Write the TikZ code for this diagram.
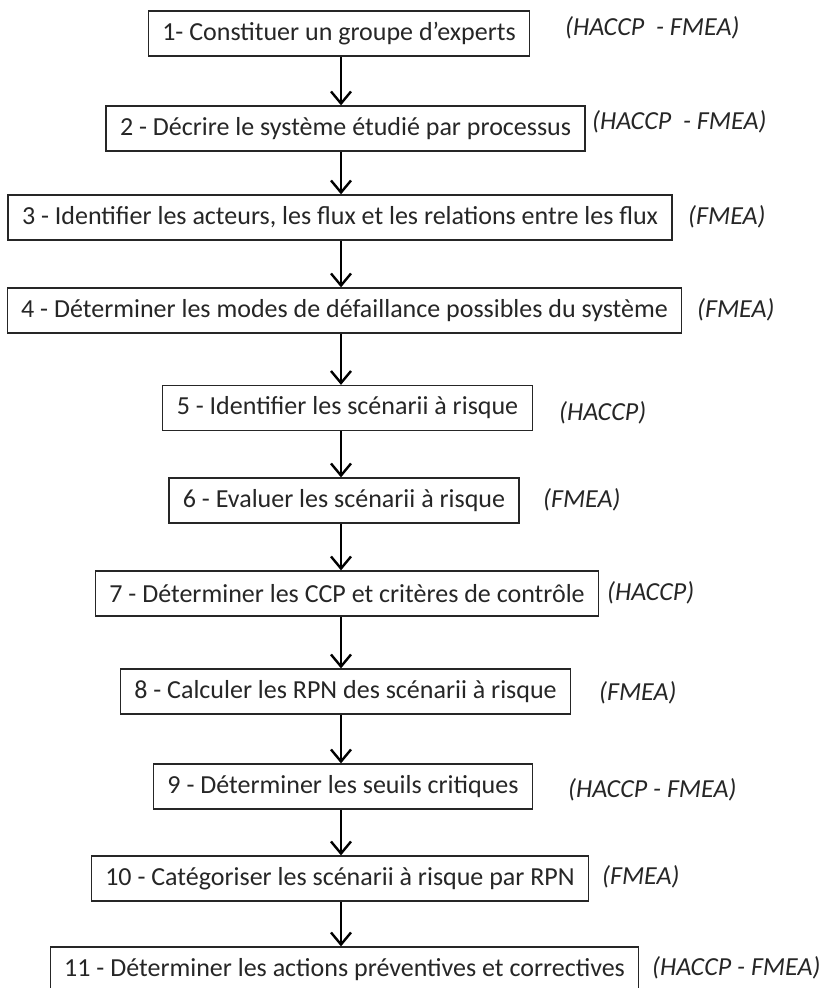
\documentclass[tikz,border=0pt]{standalone}
\usepackage{fontspec}
\setmainfont{Carlito}
\usetikzlibrary{arrows.meta}

\begin{document}
\begin{tikzpicture}[x=1pt,y=-1pt,
    etape/.style={draw=black!85, line width=1.3pt, fill=white, text=black!85,
      font=\fontsize{26}{30}\selectfont, inner xsep=14pt, inner ysep=0pt,
      minimum height=45pt},
    methode/.style={anchor=west, inner sep=0pt, text=black!85,
      font=\fontsize{26}{30}\selectfont\itshape},
    fleche/.style={-{Straight Barb[length=12pt,width=20pt,line width=2.4pt]}, line width=2.8pt}]
  \useasboundingbox (0,0) rectangle (826,988);

  \node [etape] (e1) at (339,33.5) {1- Constituer un groupe d’experts};
  \node [etape] (e2) at (345.5,128.5) {2 - Décrire le système étudié par processus};
  \node [etape] (e3) at (340,217.5) {3 - Identifier les acteurs, les flux et les relations entre les flux};
  \node [etape] (e4) at (344.5,310.5) {4 - Déterminer les modes de défaillance possibles du système};
  \node [etape] (e5) at (347.5,408) {5 - Identifier les scénarii à risque};
  \node [etape] (e6) at (344,500.5) {6 - Evaluer les scénarii à risque};
  \node [etape] (e7) at (347,593.5) {7 - Déterminer les CCP et critères de contrôle};
  \node [etape] (e8) at (345.5,691.5) {8 - Calculer les RPN des scénarii à risque};
  \node [etape] (e9) at (343,786.5) {9 - Déterminer les seuils critiques};
  \node [etape] (e10) at (340,878.5) {10 - Catégoriser les scénarii à risque par RPN};
  \node [etape] (e11) at (344.5,969.5) {11 - Déterminer les actions préventives et correctives};

  \node [methode] (m1) at (565,28) {(HACCP\ \ - FMEA)};
  \node [methode] (m2) at (592,122) {(HACCP\ \ - FMEA)};
  \node [methode] (m3) at (688,217) {(FMEA)};
  \node [methode] (m4) at (697,310) {(FMEA)};
  \node [methode] (m5) at (559,413) {(HACCP)};
  \node [methode] (m6) at (543,500) {(FMEA)};
  \node [methode] (m7) at (607,593) {(HACCP)};
  \node [methode] (m8) at (599,693) {(FMEA)};
  \node [methode] (m9) at (568,790) {(HACCP - FMEA)};
  \node [methode] (m10) at (602,877) {(FMEA)};
  \node [methode] (m11) at (652,968) {(HACCP - FMEA)};

  \coordinate (axe) at (341,0);
  \draw [fleche] (e1.south -| axe) -- (e2.north -| axe);
  \draw [fleche] (e2.south -| axe) -- (e3.north -| axe);
  \draw [fleche] (e3.south -| axe) -- (e4.north -| axe);
  \draw [fleche] (e4.south -| axe) -- (e5.north -| axe);
  \draw [fleche] (e5.south -| axe) -- (e6.north -| axe);
  \draw [fleche] (e6.south -| axe) -- (e7.north -| axe);
  \draw [fleche] (e7.south -| axe) -- (e8.north -| axe);
  \draw [fleche] (e8.south -| axe) -- (e9.north -| axe);
  \draw [fleche] (e9.south -| axe) -- (e10.north -| axe);
  \draw [fleche] (e10.south -| axe) -- (e11.north -| axe);
\end{tikzpicture}
\end{document}
